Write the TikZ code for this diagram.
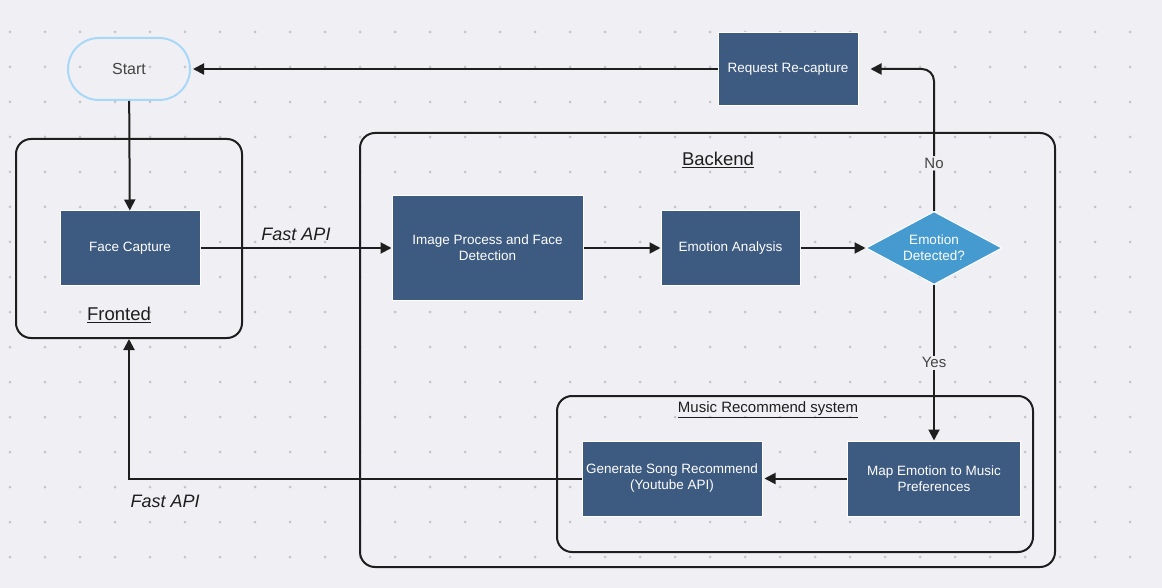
\documentclass[tikz,border=0pt]{standalone}
\usepackage{fontspec}
\setmainfont{Liberation Sans}
\usetikzlibrary{positioning,shapes.geometric,arrows.meta}

\definecolor{bgcol}{HTML}{F0F0F4}
\definecolor{dotgray}{HTML}{C4C4C8}
\definecolor{boxblue}{HTML}{3D5A80}
\definecolor{decblue}{HTML}{459BCF}
\definecolor{startblue}{HTML}{A8D8F8}
\definecolor{startgray}{HTML}{444444}
\definecolor{framegray}{HTML}{1E1E1E}

\begin{document}
\begin{tikzpicture}[x=1pt,y=-1pt,
	procbox/.style={draw=white,line width=1pt,fill=boxblue,text=white,align=center,
		font=\fontsize{13.5}{16}\selectfont,inner sep=2pt},
	decision/.style={diamond,aspect=1.86,draw=white,line width=1pt,fill=decblue,text=white,align=center,
		font=\fontsize{13.5}{16}\selectfont,inner sep=0pt,minimum width=136pt,minimum height=73pt},
	terminal/.style={draw=startblue,line width=2pt,rounded corners=31pt,text=startgray,
		font=\fontsize{16}{19}\selectfont,minimum width=122pt,minimum height=62pt},
	frame/.style={draw=framegray,line width=2pt,rounded corners=15pt},
	title/.style={font=\fontsize{18.5}{22}\selectfont,text=framegray},
	flow/.style={draw=framegray,line width=2pt,-{Triangle[length=11pt,width=11pt]}},
	api/.style={font=\fontsize{18}{22}\selectfont\itshape,text=framegray},
	answer/.style={fill=bgcol,inner sep=2pt,font=\fontsize{15}{18}\selectfont,text=startgray}
	]
	
	% the canvas
	\fill[bgcol] (0,0) rectangle (1162,588);
	\useasboundingbox (0,0) rectangle (1162,588);
	\foreach \i in {0,...,32}{
		\foreach \j in {0,...,15}{
			\fill[dotgray] (10+35*\i,32+35*\j) circle (1.5pt);
		}
	}
	
	% the frames
	\node[frame,minimum width=226pt,minimum height=199pt] (fronted) at (129,238.5) {};
	\node[frame,minimum width=695pt,minimum height=434pt] (backend) at (707.5,350) {};
	\node[frame,minimum width=476pt,minimum height=156pt] (music) at (795,474) {};
	\node[title] (frontedlbl) at (119,315) {\underline{Fronted}};
	\node[title] (backendlbl) at (718,160) {\underline{Backend}};
	\node[font=\fontsize{15}{18}\selectfont,text=framegray] (musiclbl) at (768,410) {\underline{Music Recommend system}};
	
	% the steps
	\node[terminal] (start) at (129,69) {Start};
	\node[procbox,minimum width=140pt,minimum height=73pt] (req) at (788,69) {Request Re-capture};
	\node[procbox,minimum width=140pt,minimum height=74pt] (face) at (130,248) {Face Capture};
	\node[procbox,minimum width=191pt,minimum height=105pt] (img) at (487.5,248) {Image Process and Face\\Detection};
	\node[procbox,minimum width=139pt,minimum height=74pt] (emo) at (730.5,248) {Emotion Analysis};
	\node[decision] (dec) at (934,248) {Emotion\\Detected?};
	\node[procbox,minimum width=173pt,minimum height=75pt] (map) at (934,478.5) {Map Emotion to Music\\Preferences};
	\node[procbox,minimum width=180pt,minimum height=75pt] (gen) at (672,478.5) {Generate Song Recommend\\(Youtube API)};
	
	% the flow
	\draw[flow] (start) -- (face);
	\draw[flow] (face.east) -- node[api,above=3pt] {Fast API} (img.west);
	\draw[flow] (img.east) -- (emo.west);
	\draw[flow] (emo.east) -- (dec.west);
	\draw[flow,rounded corners=12pt,shorten >=12pt] (dec.north) |- node[answer,pos=0.168] {No} (req.east);
	\draw[flow,shorten >=2pt] (req.west) -- (start.east);
	\draw[flow] (dec.south) -- node[answer] {Yes} (map.north);
	\draw[flow,shorten >=2pt] (map.west) -- (gen.east);
	\draw[flow] (gen.west) -| node[api,pos=0.46,below=12pt] {Fast API} (fronted.south);
\end{tikzpicture}
\end{document}
